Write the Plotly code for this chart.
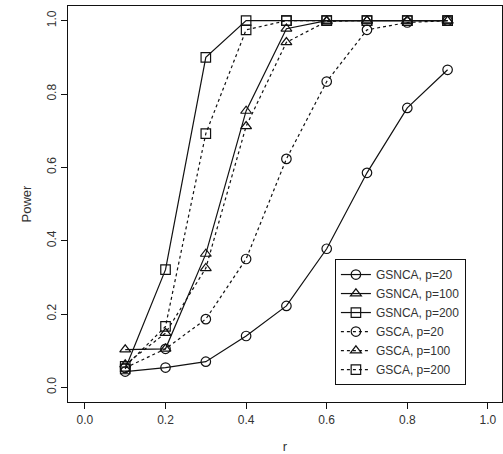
import plotly.graph_objects as go

r = [0.1, 0.2, 0.3, 0.4, 0.5, 0.6, 0.7, 0.8, 0.9]

gsnca_p20 = [0.043, 0.054, 0.070, 0.140, 0.222, 0.378, 0.585, 0.762, 0.866]
gsnca_p100 = [0.103, 0.105, 0.364, 0.754, 0.978, 1.0, 1.0, 1.0, 1.0]
gsnca_p200 = [0.050, 0.321, 0.900, 1.0, 1.0, 1.0, 1.0, 1.0, 1.0]
gsca_p20 = [0.053, 0.105, 0.186, 0.350, 0.623, 0.834, 0.975, 0.995, 1.0]
gsca_p100 = [0.062, 0.148, 0.325, 0.712, 0.941, 0.998, 1.0, 1.0, 1.0]
gsca_p200 = [0.057, 0.166, 0.692, 0.975, 1.0, 1.0, 1.0, 1.0, 1.0]

series = [
    ("GSNCA, p=20", gsnca_p20, "circle-open", "solid"),
    ("GSNCA, p=100", gsnca_p100, "triangle-up-open", "solid"),
    ("GSNCA, p=200", gsnca_p200, "square-open", "solid"),
    ("GSCA, p=20", gsca_p20, "circle-open", "dot"),
    ("GSCA, p=100", gsca_p100, "triangle-up-open", "dot"),
    ("GSCA, p=200", gsca_p200, "square-open", "dot"),
]

x_ticks = [0.0, 0.2, 0.4, 0.6, 0.8, 1.0]
y_ticks = [0.0, 0.2, 0.4, 0.6, 0.8, 1.0]

fig = go.Figure()
for name, vals, sym, dash in series:
    fig.add_trace(go.Scatter(
        x=r, y=vals, name=name, mode="lines+markers",
        line=dict(color="#111", width=1.2, dash=dash),
        marker=dict(symbol=sym, size=9.5, color="#111", line=dict(width=1.2, color="#111")),
    ))

font = "Liberation Sans, Arial, sans-serif"
fig.update_layout(
    width=503, height=454,
    margin=dict(l=68, r=1, t=6, b=52),
    paper_bgcolor="white", plot_bgcolor="white",
    font=dict(family=font, size=12, color="#333"),
    showlegend=True,
    legend=dict(
        x=0.615, y=0.361, xanchor="left", yanchor="top",
        bordercolor="#111", borderwidth=1, bgcolor="white",
        font=dict(size=12, color="#333"),
        tracegroupgap=0, itemwidth=30,
    ),
    xaxis=dict(
        range=[-0.042, 1.035], tickvals=x_ticks, ticktext=[f"{v:.1f}" for v in x_ticks],
        showgrid=False, zeroline=False, showline=True, linecolor="#111", linewidth=1.2,
        mirror=True, ticks="outside", ticklen=6, tickcolor="#111", tickwidth=1.2,
        title=dict(text="r", standoff=16, font=dict(size=13)),
        tickfont=dict(size=12),
    ),
    yaxis=dict(
        range=[-0.04, 1.04], tickvals=y_ticks, ticktext=[f"{v:.1f}" for v in y_ticks],
        showgrid=False, zeroline=False, showline=True, linecolor="#111", linewidth=1.2,
        mirror=True, ticks="outside", ticklen=6, tickcolor="#111", tickwidth=1.2,
        tickangle=-90,
        title=dict(text="Power", standoff=10, font=dict(size=13)),
        tickfont=dict(size=12),
    ),
)

fig.write_html("out.html")
